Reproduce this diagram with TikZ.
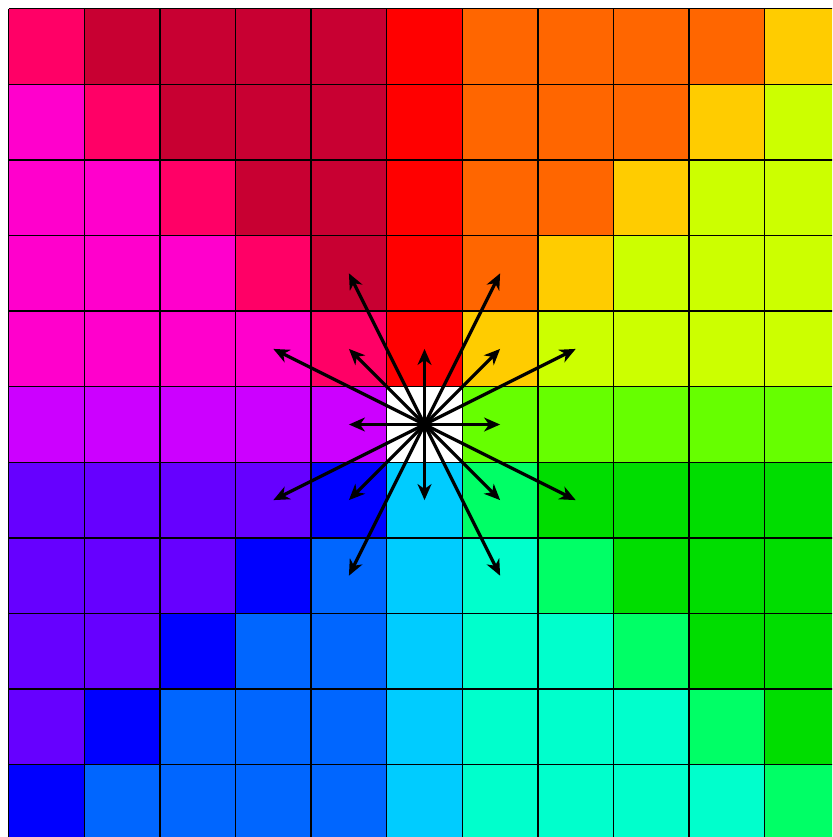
\documentclass[tikz,border=0pt]{standalone}
\usetikzlibrary{arrows.meta}
\definecolor{cN}{HTML}{FF0000}
\definecolor{cS}{HTML}{00CCFF}
\definecolor{cE}{HTML}{66FF00}
\definecolor{cW}{HTML}{CC00FF}
\definecolor{cNEd}{HTML}{FFCC00}
\definecolor{cNEh}{HTML}{CCFF00}
\definecolor{cNEv}{HTML}{FF6600}
\definecolor{cSEd}{HTML}{00FF66}
\definecolor{cSEh}{HTML}{00DD00}
\definecolor{cSEv}{HTML}{00FFCC}
\definecolor{cSWd}{HTML}{0000FF}
\definecolor{cSWh}{HTML}{6600FF}
\definecolor{cSWv}{HTML}{0066FF}
\definecolor{cNWd}{HTML}{FF0066}
\definecolor{cNWh}{HTML}{FF00CC}
\definecolor{cNWv}{HTML}{C80032}
\tikzset{
  gridline/.style={line width=0.5pt, black},
  vecarrow/.style={line width=1.2pt, black, -{Stealth[length=6pt,width=5.2pt,inset=1.8pt]}}
}
\begin{document}
\begin{tikzpicture}
\useasboundingbox (-0.115,0.115) rectangle (10.890,-10.956);
\clip (-0.115,0.115) rectangle (10.890,-10.956);
\foreach \c in {0,...,10}{
  \foreach \r in {0,...,10}{
    \pgfmathtruncatemacro\dx{\c-5}
    \pgfmathtruncatemacro\dy{5-\r}
    \pgfmathtruncatemacro\ax{abs(\dx)}
    \pgfmathtruncatemacro\ay{abs(\dy)}
    \ifnum\dx=0
      \ifnum\dy=0 \def\cc{white}\else\ifnum\dy>0 \def\cc{cN}\else\def\cc{cS}\fi\fi
    \else\ifnum\dy=0
      \ifnum\dx>0 \def\cc{cE}\else\def\cc{cW}\fi
    \else
      \ifnum\dx>0 \def\xs{E}\else\def\xs{W}\fi
      \ifnum\dy>0 \def\ys{N}\else\def\ys{S}\fi
      \ifnum\ax=\ay \def\rs{d}\else\ifnum\ax>\ay \def\rs{h}\else\def\rs{v}\fi\fi
      \edef\cc{c\ys\xs\rs}
    \fi\fi
    \fill[\cc] (\c,-\r) rectangle ++(1,-1);
  }
}
\draw[gridline] (0,0) grid (11,-11);
\coordinate (o) at (5.5,-5.5);
\foreach \vx/\vy in {1/0,-1/0,0/1,0/-1,1/1,1/-1,-1/1,-1/-1,1/2,1/-2,-1/2,-1/-2,2/1,2/-1,-2/1,-2/-1}{
  \draw[vecarrow] (o) -- ++(\vx,\vy);
}
\end{tikzpicture}
\end{document}
